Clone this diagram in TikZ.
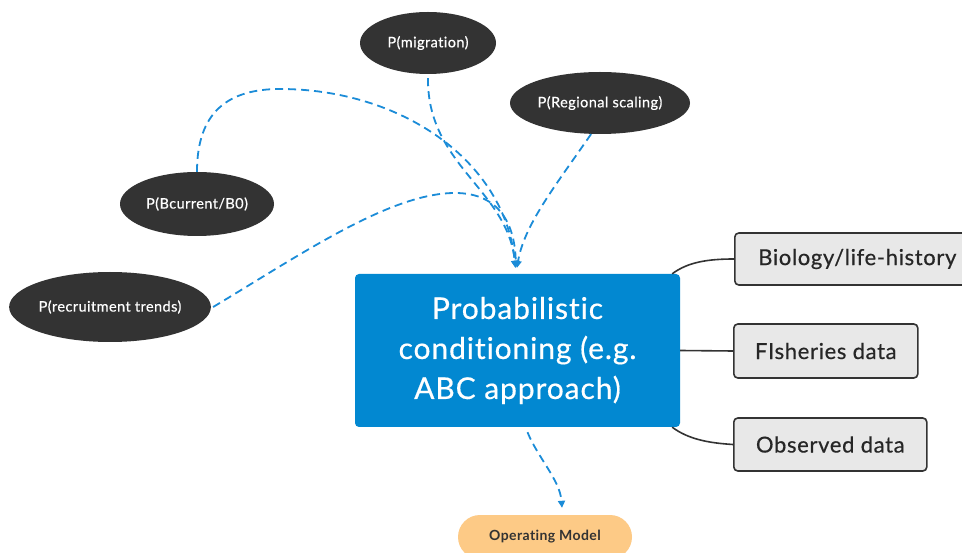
\documentclass[tikz,border=0pt]{standalone}
\usepackage{fontspec}
\setmainfont{Lato}[LetterSpace=3, Ligatures=NoCommon]
\newfontfamily\medfont{Lato}[LetterSpace=3, Ligatures=NoCommon, FakeBold=0.5]
\usetikzlibrary{shapes.geometric,arrows.meta,calc}
\definecolor{ellfill}{HTML}{333333}
\definecolor{probblue}{HTML}{0288D1}
\definecolor{dashblue}{HTML}{1B8CD8}
\definecolor{boxgray}{HTML}{E8E8E8}
\definecolor{linedark}{HTML}{333333}
\definecolor{oporange}{HTML}{FDCA86}
\tikzset{
  prior/.style={ellipse, fill=ellfill, text=white, inner sep=0pt, font=\medfont\fontsize{14.5}{17}\selectfont},
  databox/.style={rectangle, rounded corners=4pt, draw=linedark, line width=1.6pt, fill=boxgray, text=black!85, font=\medfont\fontsize{22}{26}\selectfont, minimum height=52pt, inner sep=0pt, anchor=west},
  dashlink/.style={draw=dashblue, line width=1.8pt, dash pattern=on 8pt off 5pt, -{Triangle[length=7pt,width=7pt]}},
  solidlink/.style={draw=linedark, line width=1.6pt},
}
\begin{document}
\begin{tikzpicture}[x=1pt,y=-1pt]
\useasboundingbox (0,0) rectangle (962,553);
\fill[white] (0,0) rectangle (962,553);
% priors
\node[prior, minimum width=136pt, minimum height=62pt] (mig) at (428,43) {P(migration)};
\node[prior, minimum width=180pt, minimum height=62pt] (reg) at (600,103) {P(Regional scaling)};
\node[prior, minimum width=154pt, minimum height=64pt] (bcur) at (197,204) {P(Bcurrent/B0)};
\node[prior, minimum width=198pt, minimum height=70pt] (rec) at (110,307) {P(recruitment trends)};
% main box
\node[rectangle, rounded corners=4pt, fill=probblue, text=white, minimum width=325pt, minimum height=153pt, inner sep=0pt, align=center, font=\medfont\fontsize{30}{40}\selectfont] (prob) at (517.5,350.5) {Probabilistic\\conditioning (e.g.\\ABC approach)};
% data boxes
\node[databox, minimum width=232pt] (bio) at (734,259) {\hspace*{13pt}Biology/life-history\hfill};
\node[databox, minimum width=184pt, minimum height=54pt] (fish) at (733,351) {FIsheries data};
\node[databox, minimum width=193pt, minimum height=53pt] (obs) at (733,444.5) {Observed data};
% operating model
\node[rectangle, rounded corners=22pt, fill=oporange, text=black!80, minimum width=174pt, minimum height=44pt, inner sep=0pt, font=\fontsize{14}{16}\selectfont\bfseries] (op) at (545,537) {Operating Model};
% solid connectors
\draw[solidlink] ([xshift=-8pt]prob.north east) .. controls (688,262) and (708,259) .. (bio.west);
\draw[solidlink] (prob.east) -- (fish.west);
\draw[solidlink] ([xshift=-8pt]prob.south east) .. controls (688,439) and (708,443) .. (obs.west);
% dashed connectors
\draw[dashlink, shorten >=6pt] ([yshift=-4pt]mig.south) .. controls (427,165) and (508,190) .. ([xshift=-1.5pt]prob.north);
\draw[dashlink, shorten >=6pt] (reg.-106) .. controls (556,185) and (524,225) .. ([xshift=-1.5pt]prob.north);
\draw[dashlink, shorten >=6pt] (bcur.north) .. controls (197,112) and (228,89) .. (280,89) .. controls (400,89) and (505,160) .. ([xshift=-1.5pt]prob.north);
\draw[dashlink, shorten >=6pt] ([xshift=2pt]rec.east) .. controls (300,255) and (390,193) .. (455,193) .. controls (500,193) and (515,225) .. ([xshift=-1.5pt]prob.north);
\draw[dashlink] ([xshift=10pt,yshift=-5pt]prob.south) .. controls (538,458) and (560,480) .. ([xshift=17pt,yshift=7pt]op.north);
\end{tikzpicture}
\end{document}
